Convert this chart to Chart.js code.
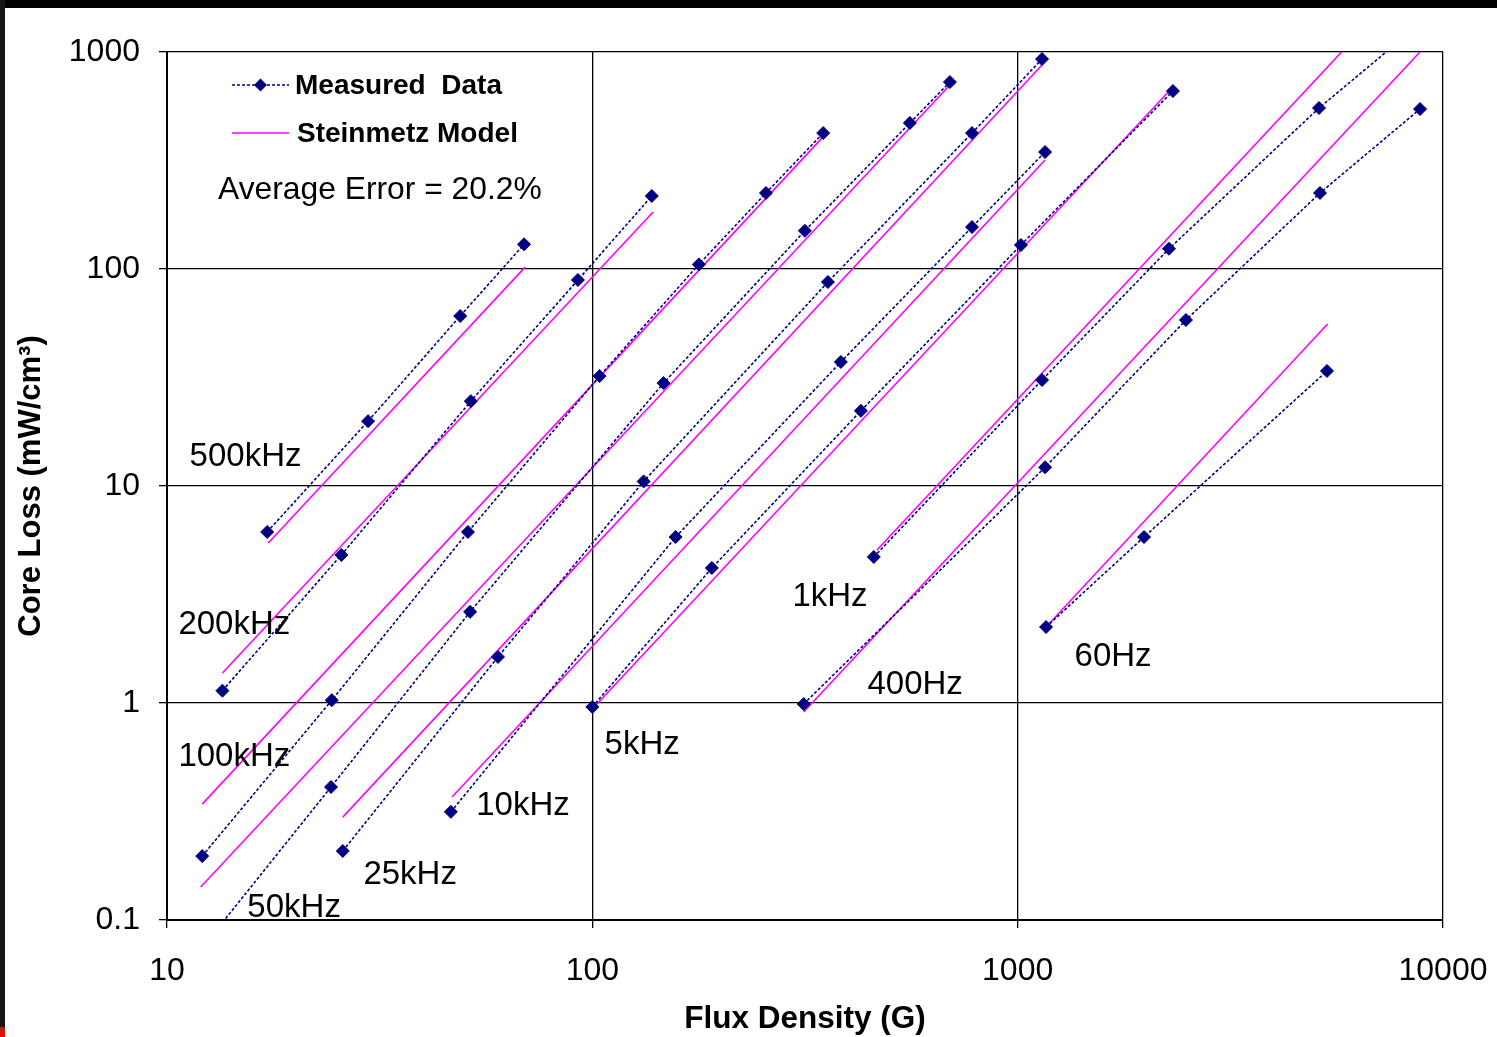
<!DOCTYPE html>
<html>
<head>
<meta charset="utf-8">
<script src="https://cdn.jsdelivr.net/npm/chart.js@4/dist/chart.umd.min.js"></script>
<style>
  html, body { margin: 0; padding: 0; background: #fff; overflow: hidden; }
  #wrap { width: 1497px; height: 1037px; }
</style>
</head>
<body>
<div id="wrap"><canvas id="c" width="1497" height="1037"></canvas></div>
<script>
// ---------- DATA ----------
const frequencies = ['500kHz','200kHz','100kHz','50kHz','25kHz','10kHz','5kHz','1kHz','400Hz','60Hz'];

// Measured data (flux density in G, core loss in mW/cm^3)
const flux500k = [17.2, 29.7, 48.9, 69.1];
const loss500k = [6.14, 19.9, 60.7, 130];
const flux200k = [13.5, 25.7, 51.8, 92.5, 138];
const loss200k = [1.14, 4.81, 24.6, 89.0, 217];
const flux100k = [12.1, 24.4, 51.0, 104, 178, 256, 349];
const loss100k = [0.197, 1.03, 6.14, 32.1, 105, 224, 423];
const flux50k  = [12.0, 24.3, 51.6, 147, 316, 558, 693];
const loss50k  = [0.073, 0.410, 2.63, 29.8, 150, 471, 727];
const flux25k  = [25.9, 60.0, 132, 358, 781, 1141];
const loss25k  = [0.208, 1.63, 10.5, 87.1, 423, 928];
const flux10k  = [46.5, 157, 384, 781, 1160];
const loss10k  = [0.315, 5.82, 37.3, 156, 346];
const flux5k   = [100, 191, 428, 1018, 2318];
const loss5k   = [0.959, 4.19, 22.2, 129, 661];
const flux1k   = [459, 1141, 2269, 5111, 8830];
const loss1k   = [4.71, 30.8, 124, 552, 1350];
const flux400  = [314, 1160, 2487, 5138, 8831];
const loss400  = [0.989, 12.2, 58.2, 224, 546];
const flux60   = [1166, 1982, 5337];
const loss60   = [2.24, 5.82, 33.9];

// Steinmetz model lines (end points of each power-law fit)
const model500kFlux = [17.3, 69.5];  const model500kLoss = [5.46, 102];
const model200kFlux = [13.5, 139];   const model200kLoss = [1.375, 183];
const model100kFlux = [12.1, 347];   const model100kLoss = [0.342, 402];
const model50kFlux  = [12.0, 693];   const model50kLoss  = [0.142, 705];
const model25kFlux  = [25.9, 1141];  const model25kLoss  = [0.298, 871];
const model10kFlux  = [46.8, 1160];  const model10kLoss  = [0.369, 318];
const model5kFlux   = [100, 2318];   const model5kLoss   = [0.938, 690];
const model1kFlux   = [467, 8830];   const model1kLoss   = [5.07, 2440];
const model400Flux  = [314, 8830];   const model400Loss  = [0.909, 1000];
const model60Flux   = [1166, 5354];  const model60Loss   = [2.24, 55.8];

const xTickValues = [10, 100, 1000, 10000];
const xTickLabels = ['10', '100', '1000', '10000'];
const yTickValues = [0.1, 1, 10, 100, 1000];
const yTickLabels = ['0.1', '1', '10', '100', '1000'];

const legendMeasured = 'Measured  Data';
const legendModel = 'Steinmetz Model';
const errorNote = 'Average Error = 20.2%';

// ---------- BUILD ----------
const measuredSets = [
  [flux500k, loss500k], [flux200k, loss200k], [flux100k, loss100k], [flux50k, loss50k],
  [flux25k, loss25k], [flux10k, loss10k], [flux5k, loss5k], [flux1k, loss1k],
  [flux400, loss400], [flux60, loss60]
];
const modelSets = [
  [model500kFlux, model500kLoss], [model200kFlux, model200kLoss], [model100kFlux, model100kLoss],
  [model50kFlux, model50kLoss], [model25kFlux, model25kLoss], [model10kFlux, model10kLoss],
  [model5kFlux, model5kLoss], [model1kFlux, model1kLoss], [model400Flux, model400Loss],
  [model60Flux, model60Loss]
];
const toPts = (xs, ys) => xs.map((x, i) => ({ x: x, y: ys[i] }));

const NAVY = '#000080';
const MAGENTA = '#FF00FF';

const datasets = [];
measuredSets.forEach((s, i) => {
  datasets.push({
    label: 'Measured ' + frequencies[i],
    data: toPts(s[0], s[1]),
    showLine: true,
    borderColor: NAVY,
    borderWidth: 1.6,
    borderDash: [3, 2],
    pointStyle: 'rectRot',
    pointRadius: 6.5,
    pointBackgroundColor: NAVY,
    pointBorderColor: NAVY,
    pointBorderWidth: 1,
    clip: 0
  });
});
modelSets.forEach((s, i) => {
  datasets.push({
    label: 'Steinmetz ' + frequencies[i],
    data: toPts(s[0], s[1]),
    showLine: true,
    borderColor: MAGENTA,
    borderWidth: 1.6,
    pointRadius: 0,
    clip: 0
  });
});

// label anchors (in data coordinates) for the frequency annotations
const freqLabelAnchors = [
  { x: 15.3, y: 13.6 }, { x: 14.4, y: 2.29 }, { x: 14.4, y: 0.564 }, { x: 19.9, y: 0.114 },
  { x: 37.3, y: 0.161 }, { x: 68.7, y: 0.335 }, { x: 131, y: 0.640 }, { x: 362, y: 3.08 },
  { x: 574, y: 1.21 }, { x: 1676, y: 1.63 }
];

const FONT = "'Liberation Sans', Arial, sans-serif";

const decorPlugin = {
  id: 'decor',
  beforeDraw(chart) {
    const ctx = chart.ctx;
    ctx.save();
    ctx.fillStyle = '#fff';
    ctx.fillRect(0, 0, chart.width, chart.height);
    ctx.fillStyle = '#000';
    ctx.fillRect(0, 0, chart.width, 8);
    ctx.fillStyle = '#151515';
    ctx.fillRect(0, 0, 5, chart.height);
    ctx.fillStyle = '#e01010';
    ctx.fillRect(0, chart.height - 10, 5, 10);
    ctx.restore();
  },
  afterDraw(chart) {
    const ctx = chart.ctx;
    const a = chart.chartArea;
    const xs = chart.scales.x, ys = chart.scales.y;
    ctx.save();
    // frequency labels
    ctx.fillStyle = '#000';
    ctx.font = '33px ' + FONT;
    ctx.textAlign = 'center';
    ctx.textBaseline = 'middle';
    frequencies.forEach((f, i) => {
      const p = freqLabelAnchors[i];
      ctx.fillText(f, xs.getPixelForValue(p.x), ys.getPixelForValue(p.y));
    });
    // legend
    const lx0 = a.left + 65, lx1 = a.left + 122;
    const y1 = a.top + 33, y2 = a.top + 81;
    ctx.strokeStyle = NAVY;
    ctx.lineWidth = 1.6;
    ctx.setLineDash([3, 2]);
    ctx.beginPath(); ctx.moveTo(lx0, y1); ctx.lineTo(lx1, y1); ctx.stroke();
    ctx.setLineDash([]);
    const cx = (lx0 + lx1) / 2, r = 6.5;
    ctx.fillStyle = NAVY;
    ctx.beginPath();
    ctx.moveTo(cx - r, y1); ctx.lineTo(cx, y1 - r); ctx.lineTo(cx + r, y1); ctx.lineTo(cx, y1 + r);
    ctx.closePath(); ctx.fill();
    ctx.strokeStyle = MAGENTA;
    ctx.lineWidth = 1.6;
    ctx.beginPath(); ctx.moveTo(lx0, y2); ctx.lineTo(lx1, y2); ctx.stroke();
    ctx.fillStyle = '#000';
    ctx.textAlign = 'left';
    ctx.font = 'bold 28px ' + FONT;
    ctx.fillText(legendMeasured, a.left + 128, y1 + 1);
    ctx.fillText(legendModel, a.left + 130, y2 + 1);
    ctx.font = '31.8px ' + FONT;
    ctx.fillText(errorNote, a.left + 51, a.top + 138);
    ctx.restore();
  }
};

new Chart(document.getElementById('c'), {
  type: 'scatter',
  data: { datasets: datasets },
  plugins: [decorPlugin],
  options: {
    responsive: false,
    devicePixelRatio: 1,
    animation: false,
    events: [],
    layout: { padding: { top: 52, right: 54, bottom: 0, left: 0 } },
    plugins: { legend: { display: false }, tooltip: { enabled: false } },
    scales: {
      x: {
        type: 'logarithmic',
        position: 'bottom',
        min: 10, max: 10000,
        afterBuildTicks: s => { s.ticks = xTickValues.map(v => ({ value: v })); },
        afterFit: s => { s.height = 117; s.paddingLeft = 0; s.paddingRight = 0; },
        ticks: {
          autoSkip: false, maxRotation: 0, padding: 24, color: '#000',
          font: { size: 32, family: FONT },
          callback: (v, i) => xTickLabels[i]
        },
        grid: { color: '#000', lineWidth: 1.3, tickLength: 8, drawTicks: true },
        border: { color: '#000', width: 2 },
        title: {
          display: true, text: 'Flux Density (G)', color: '#000',
          font: { size: 31.5, weight: 'bold', family: FONT },
          padding: { top: 0, bottom: -1 }
        }
      },
      y: {
        type: 'logarithmic',
        position: 'left',
        min: 0.1, max: 1000,
        afterBuildTicks: s => { s.ticks = yTickValues.map(v => ({ value: v })); },
        afterFit: s => { s.width = 167; s.paddingTop = 0; s.paddingBottom = 0; },
        ticks: {
          autoSkip: false, padding: 19, color: '#000',
          font: { size: 32, family: FONT },
          callback: (v, i) => yTickLabels[i]
        },
        grid: { color: '#000', lineWidth: 1.3, tickLength: 8, drawTicks: true },
        border: { color: '#000', width: 2 },
        title: {
          display: true, text: 'Core Loss (mW/cm³)', color: '#000',
          font: { size: 31, weight: 'bold', family: FONT },
          padding: { top: 13, bottom: 0 }
        }
      }
    }
  }
});
</script>
</body>
</html>
